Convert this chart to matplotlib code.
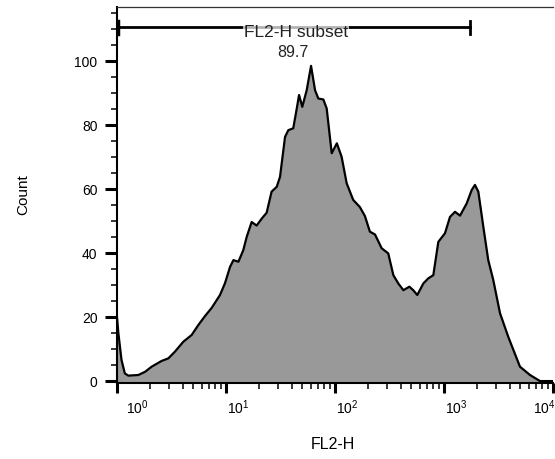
import matplotlib
matplotlib.use("Agg")
import matplotlib.pyplot as plt
from matplotlib.ticker import LogLocator, MultipleLocator, NullFormatter
from matplotlib.transforms import ScaledTranslation

plt.rcParams['font.family'] = ['Liberation Sans', 'DejaVu Sans']
plt.rcParams['mathtext.fontset'] = 'custom'
plt.rcParams['mathtext.rm'] = 'Liberation Sans'
plt.rcParams['mathtext.it'] = 'Liberation Sans'
plt.rcParams['mathtext.bf'] = 'Liberation Sans'

# FL2-H channel values (log-scaled axis) and histogram counts
fl2h = [1.00, 1.03, 1.10, 1.18, 1.27, 1.57, 1.81, 2.08, 2.57, 2.96, 3.40, 4.06,
        4.84, 5.57, 6.41, 7.40, 8.81, 9.79, 10.9, 11.7, 13.0, 14.4, 15.5, 17.2,
        19.1, 21.3, 23.6, 26.2, 29.2, 31.3, 34.8, 37.3, 41.4, 44.6, 46.8, 50.1,
        55.0, 60.3, 65.6, 70.3, 78.2, 83.9, 93.3, 104, 115, 128, 147, 169, 188,
        209, 233, 268, 308, 343, 381, 424, 481, 522, 569, 646, 718, 798, 887,
        1021, 1135, 1262, 1403, 1614, 1795, 1923, 2065, 2296, 2547, 2831, 3266,
        3890, 4977, 6152, 7603, 10000]
count = [20.0, 14.9, 6.6, 2.4, 1.7, 1.9, 2.9, 4.5, 6.3, 7.1, 9.2, 12.3,
         14.4, 17.5, 20.3, 22.9, 26.9, 30.6, 35.7, 37.8, 37.3, 40.9, 45.1, 49.7,
         48.6, 50.8, 52.6, 59.2, 60.7, 63.8, 76.3, 78.4, 79.0, 85.2, 89.4, 85.7,
         90.9, 98.5, 90.9, 88.3, 88.0, 85.2, 71.2, 74.3, 70.1, 61.8, 56.6, 54.4, 51.6,
         46.7, 45.8, 41.5, 39.9, 33.1, 30.5, 28.4, 29.5, 28.4, 26.9, 30.5, 32.1, 33.1, 43.5,
         46.2, 51.3, 52.9, 51.7, 55.5, 59.7, 61.3, 59.2, 48.2, 37.8, 31.6, 21.2,
         13.8, 4.5, 1.9, 0.0, 0.0]

# Gate
gate_name = "FL2-H subset"
gate_pct = "89.7"
gate_lo, gate_hi = 1.02, 1733
gate_y = 110.6

y_ticks = [0, 20, 40, 60, 80, 100]
x_ticks = [1, 10, 100, 1000, 10000]
x_ticklabels = [r"$10^{0}$", r"$10^{1}$", r"$10^{2}$", r"$10^{3}$", r"$10^{4}$"]

fig = plt.figure(figsize=(5.55, 4.59), dpi=100)
ax = fig.add_axes([117/555, 1-383/459, 436/555, 376/459])

ax.fill_between(fl2h, count, -5, color='#999999', linewidth=0)
ax.plot(fl2h, count, color='black', linewidth=1.6, solid_joinstyle='round')

ax.set_xscale('log')
ax.set_xlim(1, 10000)
ax.set_ylim(-0.6, 116.9)

ax.set_yticks(y_ticks)
ax.yaxis.set_minor_locator(MultipleLocator(5))
ax.set_xticks(x_ticks)
ax.set_xticklabels(x_ticklabels)
ax.xaxis.set_minor_locator(LogLocator(base=10, subs=range(2, 10)))
ax.xaxis.set_minor_formatter(NullFormatter())

ax.tick_params(axis='y', which='major', length=9, width=2.2, pad=5, labelsize=10)
ax.tick_params(axis='y', which='minor', length=4, width=1.1)
ax.tick_params(axis='x', which='major', length=7.5, width=2.2, pad=3.5, labelsize=10)
ax.tick_params(axis='x', which='minor', length=4, width=1.1)

for s in ['left', 'bottom']:
    ax.spines[s].set_linewidth(1.5)
ax.spines['top'].set_linewidth(0.9)
ax.spines['top'].set_color('#333333')
ax.spines['right'].set_visible(False)

# tick label alignment like FlowJo
labels = ax.get_xticklabels()
for i, lab in enumerate(labels):
    if i == 0:
        lab.set_horizontalalignment('left')
        lab.set_transform(lab.get_transform() + ScaledTranslation(9/100, 0, fig.dpi_scale_trans))
    elif i == len(labels) - 1:
        lab.set_horizontalalignment('right')
        lab.set_transform(lab.get_transform() + ScaledTranslation(3/100, 0, fig.dpi_scale_trans))
    else:
        lab.set_horizontalalignment('left')
        lab.set_transform(lab.get_transform() + ScaledTranslation(1/100, 0, fig.dpi_scale_trans))

ax.set_ylabel("Count", fontsize=11)
ax.yaxis.set_label_coords(-0.200, 0.5)
ax.set_xlabel("FL2-H", fontsize=11.5)
ax.xaxis.set_label_coords(0.495, -0.144)
ax.xaxis.label.set_verticalalignment('top')

# gate bar
ax.plot([gate_lo, gate_hi], [gate_y, gate_y], color='black', linewidth=2, clip_on=False)
ax.plot([gate_lo, gate_lo], [gate_y - 2, gate_y + 2], color='black', linewidth=2.5, clip_on=False)
ax.plot([gate_hi, gate_hi], [gate_y - 2, gate_y + 2], color='black', linewidth=2, clip_on=False)
ax.text(43.6, 107.6, gate_name, ha='center', va='baseline', fontsize=12.5,
        color='#222222',
        bbox=dict(facecolor='white', alpha=0.7, edgecolor='none', boxstyle='square,pad=0.05'))
ax.text(41.5, 101.3, gate_pct, ha='center', va='baseline', fontsize=11.5,
        color='#222222',
        bbox=dict(facecolor='white', alpha=0.7, edgecolor='none', boxstyle='square,pad=0.1'))

fig.savefig("out.png", dpi=100)
